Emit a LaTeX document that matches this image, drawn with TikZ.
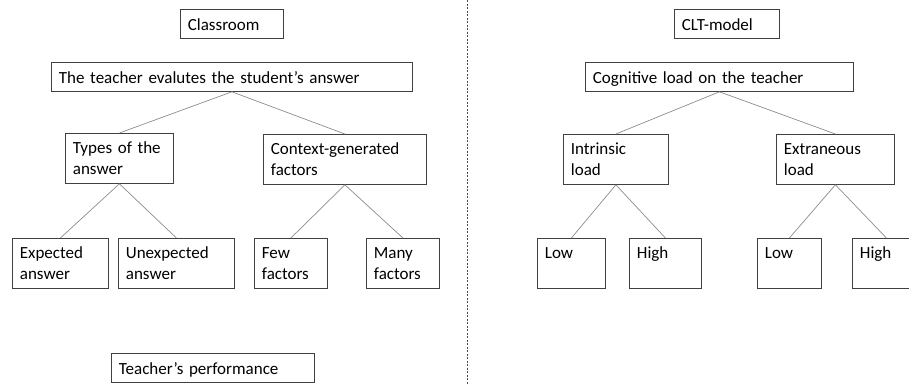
\documentclass[tikz,border=0pt]{standalone}
\usepackage{fontspec}
\setmainfont{Carlito}
\usepackage{tikz}

\begin{document}
\begin{tikzpicture} [x = 1pt, y = -1pt,
  box/.style = {draw = black!75, line width = 0.8pt, anchor = north west, align = left, inner xsep = 7.5pt, inner ysep = 0pt, font = \fontsize{17}{21}\selectfont, text height = 21pt, text depth = 8pt},
  tallbox/.style = {box, text height = 20pt, text depth = 30pt},
  branch/.style = {draw = black!45, line width = 0.7pt}]
\useasboundingbox (0,0) rectangle (909,384);
\clip (0,0) rectangle (909,384);
\node[box, text width = 88pt] (room) at (180,9) {Classroom};
\node[box, text width = 346pt] (eval) at (51,62) {The teacher evalutes the student’s answer};
\node[tallbox, text width = 93pt] (types) at (65,133) {Types of the answer};
\node[tallbox, text width = 148pt] (ctx) at (263,134) {Context-generated factors};
\node[tallbox, text width = 81pt] (exp) at (12,238) {Expected answer};
\node[tallbox, text width = 101pt] (unexp) at (118,238) {Unexpected answer};
\node[tallbox, text width = 58pt] (few) at (254,238) {Few factors};
\node[tallbox, text width = 58pt] (many) at (366,238) {Many factors};
\node[box, text width = 188pt] (perf) at (111,353) {Teacher’s performance};
\node[box, text width = 90pt] (clt) at (674,9) {CLT-model};
\node[box, text width = 253pt] (cog) at (585,62) {Cognitive load on the teacher};
\node[tallbox, text width = 90pt] (intr) at (563,134) {Intrinsic load};
\node[tallbox, text width = 103pt] (extr) at (776,134) {Extraneous load};
\node[tallbox, text width = 53pt] (lowa) at (537,238) {Low};
\node[tallbox, text width = 57pt] (higha) at (629,238) {High};
\node[tallbox, text width = 49pt] (lowb) at (757,238) {Low};
\node[tallbox, text width = 53pt] (highb) at (852,238) {High};
\coordinate (divtop) at (467,0);
\coordinate (divbot) at (467,384);
\draw [branch] (eval.south) -- (types.north);
\draw [branch] (eval.south) -- (ctx.north);
\draw [branch] (types.south) -- (exp.north);
\draw [branch] (types.south) -- (unexp.north);
\draw [branch] (ctx.south) -- (few.north);
\draw [branch] (ctx.south) -- (many.north);
\draw [branch] (cog.south) -- (intr.north);
\draw [branch] (cog.south) -- (extr.north);
\draw [branch] (intr.south) -- (lowa.north);
\draw [branch] (intr.south) -- (higha.north);
\draw [branch] (extr.south) -- (lowb.north);
\draw [branch] (extr.south) -- (highb.north);
\draw [black!70, line width = 0.6pt, dash pattern = on 2pt off 1.5pt] (divtop) -- (divbot);
\end{tikzpicture}
\end{document}
